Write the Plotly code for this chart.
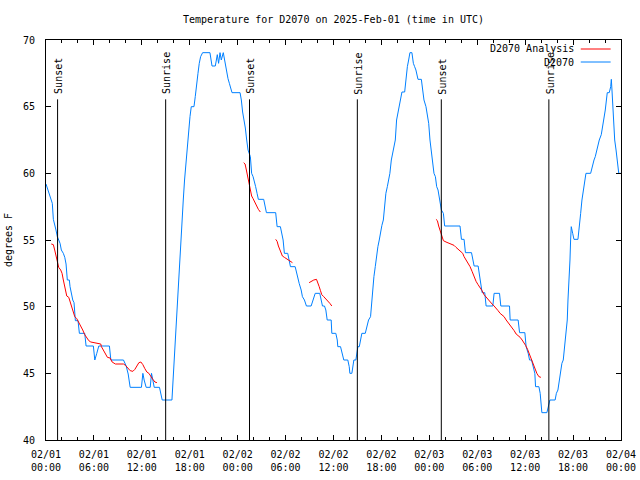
import pandas as pd
import plotly.graph_objects as go

BASE = pd.Timestamp("2025-02-01 00:00")

# D2070 observations: hours since 2025-02-01 00:00 UTC, temperature (F)
obs_hours = [
    0.0, 0.38, 0.63, 0.79, 0.92, 1.09, 1.25, 1.42, 1.59, 1.76, 1.92, 2.17, 2.35, 2.51, 2.67, 2.92,
    3.01, 3.17, 3.35, 3.51, 3.60, 3.68, 4.01, 4.18, 4.85, 5.02, 5.93, 6.11, 6.36, 6.61, 7.94, 8.12,
    9.70, 10.04, 10.29, 10.54, 11.95, 12.13, 12.29, 12.54, 13.05, 13.21, 13.38, 13.55, 14.21, 14.39,
    14.55, 15.77, 15.84, 16.02, 16.18, 16.35, 16.52, 16.68, 16.85, 17.02, 17.19, 17.35, 17.52, 17.69,
    17.85, 18.03, 18.19, 18.53, 18.69, 18.85, 19.03, 19.19, 19.36, 19.61, 20.53, 20.79, 21.20, 21.45,
    21.61, 21.79, 21.95, 22.20, 22.45, 22.62, 22.79, 22.96, 23.29, 24.30, 24.46, 24.62, 24.80, 24.96,
    25.13, 25.30, 25.59, 25.75, 25.93, 26.09, 26.25, 26.43, 26.59, 27.26, 27.43, 27.60, 28.76, 28.94,
    29.35, 29.52, 29.69, 29.85, 30.27, 30.44, 30.61, 31.20, 31.45, 31.70, 31.95, 32.11, 32.36, 32.61,
    33.20, 33.45, 33.71, 34.28, 34.46, 34.62, 34.87, 35.04, 35.21, 35.71, 35.79, 36.29, 36.47, 36.54,
    36.88, 37.04, 37.29, 37.79, 37.97, 38.05, 38.30, 38.55, 38.80, 39.05, 39.23, 39.39, 39.55, 39.98,
    40.14, 40.39, 40.64, 40.73, 40.89, 41.06, 41.23, 41.40, 41.56, 41.73, 41.90, 42.06, 42.24, 42.40,
    42.56, 42.74, 42.90, 43.06, 43.24, 43.40, 43.57, 43.74, 43.90, 44.07, 44.24, 44.41, 44.57, 44.91,
    45.07, 45.25, 45.41, 45.57, 45.82, 46.00, 46.16, 46.32, 46.58, 47.00, 47.17, 47.33, 47.58, 47.76,
    47.92, 48.08, 48.26, 48.42, 48.58, 48.76, 48.92, 49.09, 49.26, 49.42, 49.51, 49.76, 49.92, 51.84,
    52.02, 52.35, 52.52, 53.28, 53.44, 53.61, 54.11, 54.28, 54.44, 54.61, 54.94, 55.11, 55.95, 56.11,
    56.79, 56.95, 58.04, 58.12, 59.12, 59.30, 59.96, 60.12, 60.38, 60.55, 60.80, 60.96, 61.21, 61.30,
    61.72, 61.88, 62.09, 62.72, 62.91, 63.10, 63.75, 63.91, 64.10, 64.27, 64.44, 64.60, 64.77, 64.94,
    65.10, 65.27, 65.36, 65.52, 65.61, 65.69, 65.77, 65.95, 66.11, 66.61, 66.77, 66.95, 67.11, 67.27,
    67.45, 67.61, 68.20, 68.37, 68.62, 68.78, 68.96, 69.12, 69.28, 69.53, 69.71, 69.87, 70.03, 70.28,
    70.53, 70.71, 70.79, 70.87, 71.04, 71.21, 71.38, 71.54, 71.72, 72.0,
]
obs_temps = [
    59.2, 58.5, 58.05, 57.75, 56.55, 56.0, 55.75, 55.25, 55.0, 54.75, 54.25, 54.0, 53.7, 53.2, 52.0, 52.0,
    51.5, 51.0, 50.5, 50.3, 49.5, 48.95, 48.95, 48.0, 48.0, 47.05, 47.05, 46.0, 46.5, 47.05, 47.05, 46.0,
    46.0, 45.55, 44.95, 43.95, 43.95, 45.0, 44.5, 43.95, 43.95, 45.0, 44.5, 43.95, 43.95, 43.5,
    43.0, 43.0, 43.75, 45.75, 47.5, 49.25, 51.0, 53.5, 54.5, 56.75, 58.0, 59.5, 60.75, 62.0,
    63.5, 64.25, 65.0, 65.0, 65.75, 66.75, 67.5, 68.25, 68.75, 69.05, 69.05, 68.05, 68.05, 68.9,
    68.25, 69.05, 68.5, 69.05, 68.25, 67.5, 67.1, 66.75, 66.05, 66.05, 65.5, 64.6, 64.0, 63.4,
    62.5, 61.75, 61.25, 60.0, 59.75, 59.25, 59.0, 58.5, 58.05, 58.05, 57.55, 57.05, 57.05, 56.0,
    56.0, 55.5, 55.0, 54.0, 54.0, 53.5, 53.0, 53.0, 52.25, 51.75, 51.25, 50.75, 50.5, 50.05,
    50.05, 50.55, 51.0, 51.0, 50.5, 50.05, 50.05, 49.75, 49.0, 49.0, 48.0, 48.0, 47.5, 47.0,
    47.0, 46.5, 46.0, 46.0, 45.5, 45.0, 45.0, 46.0, 46.0, 47.0, 47.0, 47.5, 48.0, 48.0,
    48.5, 49.0, 49.25, 50.0, 51.5, 52.25, 53.0, 54.0, 54.5, 55.0, 55.75, 56.1, 56.5, 57.5,
    58.5, 59.0, 59.5, 60.0, 61.0, 61.5, 62.0, 62.5, 64.0, 64.5, 65.0, 65.5, 66.1, 66.1,
    67.25, 68.0, 68.5, 69.05, 69.05, 68.25, 68.0, 67.75, 67.05, 67.05, 66.25, 65.5, 65.0, 64.25,
    63.75, 62.5, 61.5, 60.75, 60.0, 59.75, 59.0, 58.75, 58.25, 57.6, 57.25, 57.0, 56.05, 56.05,
    55.05, 55.05, 54.05, 54.05, 53.55, 53.05, 53.05, 52.25, 51.5, 51.05, 51.05, 50.05, 50.05, 51.0,
    51.0, 50.05, 50.05, 49.0, 49.0, 48.05, 48.05, 47.0, 46.5, 46.0, 46.0, 45.5, 45.0, 44.0,
    44.0, 43.5, 42.05, 42.05, 42.5, 43.0, 43.0, 43.5, 43.75, 44.5, 45.25, 45.75, 46.0, 47.0,
    47.75, 49.0, 50.5, 52.0, 53.5, 55.0, 56.0, 55.5, 55.05, 55.05, 56.25, 57.0, 58.0, 58.75,
    59.25, 60.0, 60.0, 60.5, 61.0, 61.25, 61.75, 62.0, 62.5, 62.9, 63.5, 64.25, 64.75, 66.05,
    66.05, 66.5, 67.05, 66.25, 64.0, 62.5, 61.75, 61.0, 60.0, 60.0,
]

# D2070 Analysis: segments separated by None
ana_hours = [
    0.66, 0.92, 1.09, 1.25, 1.42, 1.59, 1.84, 2.01, 2.17, 2.35, 2.60, 2.85, 3.10, 3.35, 3.60, 3.85,
    4.10, 4.35, 4.60, 4.85, 5.11, 5.36, 5.61, 5.93, 6.27, 6.86, 6.94, 7.19, 7.44, 7.69, 8.03, 8.28,
    8.69, 9.70, 9.95, 10.20, 10.54, 10.88, 11.13, 11.38, 11.63, 11.88, 12.13, 12.38, 12.63, 12.88,
    13.13, 13.38, 13.64, 13.89, None,
    24.75, 24.93, 25.09, 25.25, 25.43, 25.59, 25.75, 25.93, 26.09, 26.25, 26.43, 26.59, 26.84, None,
    28.76, 28.94, 29.10, 29.27, 29.44, 29.60, 29.85, 30.11, 30.36, 30.61, 30.86, None,
    32.95, 33.20, 33.53, 33.87, 34.03, 34.21, 34.37, 34.53, 34.78, 35.04, 35.29, 35.54, 35.79, None,
    48.83, 49.01, 49.17, 49.34, 49.51, 49.76, 50.09, 50.51, 50.84, 51.09, 51.34, 51.59, 51.93, 52.18,
    52.35, 52.60, 52.85, 53.10, 53.35, 53.60, 53.85, 54.10, 54.35, 54.60, 54.85, 55.11, 55.36, 55.61,
    55.86, 56.11, 56.36, 56.61, 56.86, 57.11, 57.36, 57.62, 57.87, 58.12, 58.37, 58.62, 58.87, 59.12,
    59.37, 59.62, 59.87, 60.05, 60.30, 60.46, 60.71, 60.96, 61.12, 61.30, 61.46, 61.72, 61.97,
]
ana_temps = [
    54.7, 54.65, 54.25, 53.75, 53.25, 52.95, 52.75, 52.5, 52.0, 51.5, 50.8, 50.7, 50.25, 49.75, 49.25, 49.1,
    48.85, 48.55, 48.25, 47.9, 47.65, 47.45, 47.35, 47.3, 47.25, 47.2, 47.0, 46.75, 46.55, 46.2, 46.15, 45.85,
    45.7, 45.7, 45.6, 45.4, 45.2, 45.15, 45.3, 45.55, 45.8, 45.85, 45.65, 45.35, 45.1, 45.0,
    44.75, 44.55, 44.35, 44.3, None,
    60.8, 60.7, 60.25, 59.75, 59.25, 58.75, 58.3, 58.1, 57.9, 57.7, 57.5, 57.3, 57.1, None,
    55.05, 54.9, 54.55, 54.25, 54.0, 53.8, 53.7, 53.6, 53.45, 53.35, 53.3, None,
    51.8, 51.9, 52.0, 52.05, 51.85, 51.5, 51.2, 50.9, 50.75, 50.6, 50.4, 50.25, 50.05, None,
    56.55, 56.45, 56.05, 55.7, 55.3, 54.95, 54.85, 54.75, 54.7, 54.6, 54.45, 54.3, 54.15, 54.0,
    53.75, 53.5, 53.3, 53.0, 52.65, 52.25, 51.9, 51.65, 51.45, 51.2, 50.9, 50.7, 50.5, 50.35,
    50.2, 50.05, 49.9, 49.7, 49.5, 49.35, 49.25, 49.0, 48.8, 48.65, 48.45, 48.2, 47.95, 47.85,
    47.7, 47.5, 47.3, 47.1, 46.8, 46.55, 46.2, 45.8, 45.5, 45.25, 45.0, 44.75, 44.7,
]

event_times = ["2025-02-01 01:27", "2025-02-01 14:59", "2025-02-02 01:29",
               "2025-02-02 14:59", "2025-02-03 01:30", "2025-02-03 14:58"]
event_labels = ["Sunset", "Sunrise", "Sunset", "Sunrise", "Sunset", "Sunrise"]

y_min, y_max = 40, 70
event_line_top = 65.55

def to_dt(hours):
    return [None if h is None else BASE + pd.Timedelta(hours=h) for h in hours]

FONT = "DejaVu Sans Mono"
RED = "#ff0000"
BLUE = "#0080ff"

fig = go.Figure()
fig.add_trace(go.Scatter(x=to_dt(obs_hours), y=obs_temps, mode="lines", name="D2070",
                         line=dict(color=BLUE, width=1), showlegend=False))
fig.add_trace(go.Scatter(x=to_dt(ana_hours), y=ana_temps, mode="lines", name="D2070 Analysis",
                         line=dict(color=RED, width=1), connectgaps=False, showlegend=False))

for t, lab in zip(event_times, event_labels):
    fig.add_shape(type="line", xref="x", yref="y", x0=t, x1=t, y0=y_min, y1=event_line_top,
                  line=dict(color="black", width=1))
    fig.add_annotation(x=t, y=event_line_top, xref="x", yref="y", text=lab, textangle=-90,
                       showarrow=False, xanchor="center", yanchor="bottom", yshift=3, xshift=1,
                       font=dict(family=FONT, size=10, color="black"))

# gnuplot-style legend (text right, sample line after it)
legend_items = [("D2070 Analysis", RED, 0.9775), ("D2070", BLUE, 0.945)]
for name, col, yp in legend_items:
    fig.add_annotation(x=0.921, y=yp, xref="paper", yref="paper", text=name, showarrow=False,
                       xanchor="right", yanchor="middle", font=dict(family=FONT, size=10, color="black"))
    fig.add_shape(type="line", xref="paper", yref="paper", x0=0.930, x1=0.982, y0=yp, y1=yp,
                  line=dict(color=col, width=1))

fig.update_layout(
    width=640, height=480,
    margin=dict(l=46, r=19, t=40, b=40, autoexpand=False),
    paper_bgcolor="white", plot_bgcolor="white",
    font=dict(family=FONT, size=10, color="black"),
    title=dict(text="Temperature for D2070 on 2025-Feb-01 (time in UTC)", x=0.5, xref="paper",
               y=1 - 19 / 480, yref="container", xanchor="center", yanchor="middle",
               font=dict(family=FONT, size=10, color="black")),
    showlegend=False,
)
fig.update_xaxes(
    type="date", range=["2025-02-01 00:00", "2025-02-04 00:00"], automargin=False,
    dtick=6 * 3600 * 1000, tick0="2025-02-01 00:00", tickformat="%m/%d\n%H:%M",
    ticks="inside", ticklen=5, tickcolor="black", showline=True, linecolor="black", linewidth=1,
    mirror="ticks", showgrid=False, zeroline=False,
    minor=dict(dtick=2 * 3600 * 1000, ticks="inside", ticklen=3, tickcolor="black", showgrid=False),
    tickfont=dict(family=FONT, size=10, color="black"), ticklabelstandoff=5,
)
fig.update_yaxes(
    range=[y_min, y_max], dtick=5, ticks="inside", ticklen=5, tickcolor="black", automargin=False,
    showline=True, linecolor="black", linewidth=1, mirror="ticks", showgrid=False, zeroline=False,
    title=dict(text="degrees F", font=dict(family=FONT, size=10, color="black"), standoff=8),
    tickfont=dict(family=FONT, size=10, color="black"), ticklabelstandoff=8,
)

fig.write_html("out.html", config={"displayModeBar": False},
               post_script="document.body.style.margin='0';")
